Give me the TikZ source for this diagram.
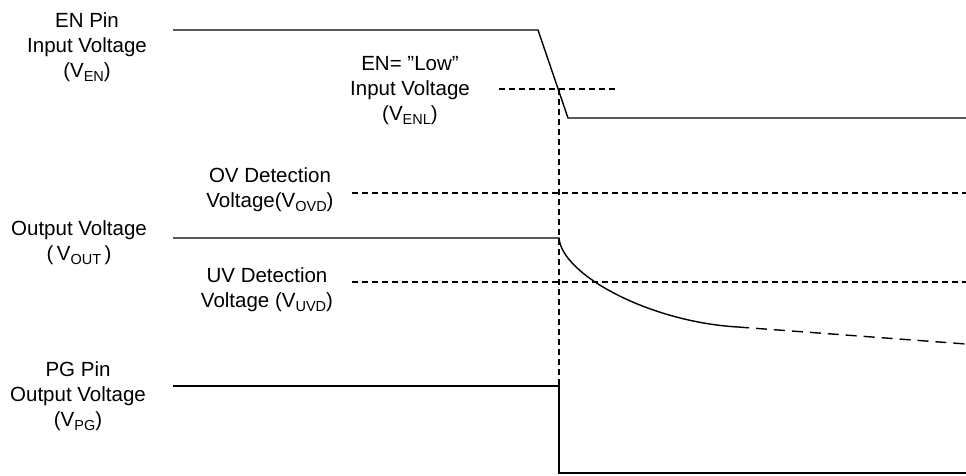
\documentclass[tikz,border=0pt]{standalone}
\usepackage{fontspec}
\setmainfont{Liberation Sans}
\newcommand\sbs[1]{\raisebox{-0.35ex}{\fontsize{14.5}{14.5}\selectfont #1}}
\begin{document}
\begin{tikzpicture}[x=1pt,y=-1pt,
  lbl/.style={align=center,inner sep=0pt,font=\fontsize{20.5}{25}\selectfont},
  sig/.style={line width=1.4pt,line join=miter},
  lvl/.style={line width=1.1pt,dash pattern=on 6pt off 4pt},
  tail/.style={line width=1.4pt,dash pattern=on 11pt off 7pt}]
\useasboundingbox (0,0) rectangle (966,475);
% labels
\node[lbl] (len) at (87,47) {EN Pin\\Input Voltage\\(V\sbs{EN})};
\node[lbl] (lenl) at (410,91) {EN= ”Low”\\Input Voltage\\(V\sbs{ENL})};
\node[lbl] (lov) at (270,190) {OV Detection\\Voltage(V\sbs{OVD})};
\node[lbl] (lout) at (79,243) {Output Voltage\\(\,V\sbs{OUT}\,)};
\node[lbl] (luv) at (267,290) {UV Detection\\Voltage (V\sbs{UVD})};
\node[lbl] (lpg) at (78,396) {PG Pin\\Output Voltage\\(V\sbs{PG})};
% key points
\coordinate (en0) at (173,30);
\coordinate (en1) at (538,30);
\coordinate (en2) at (568,118);
\coordinate (en3) at (966,118);
\coordinate (th0) at (499,89);
\coordinate (th1) at (618,89);
\coordinate (cross) at (559,89);
\coordinate (ov0) at (352,193);
\coordinate (ov1) at (966,193);
\coordinate (uv0) at (352,282);
\coordinate (uv1) at (966,282);
\coordinate (vo0) at (173,238);
\coordinate (vo1) at (559,238);
\coordinate (vo2) at (738,327);
\coordinate (vo3) at (966,344);
\coordinate (pg0) at (173,386);
\coordinate (pg1) at (559,386);
\coordinate (pg2) at (559,473);
\coordinate (pg3) at (966,473);
% EN waveform
\draw[sig] (en0) -- (en1) -- (en2) -- (en3);
\draw[lvl] (th0) -- (th1);
\draw[lvl] (cross) -- (pg1);
% thresholds
\draw[lvl] (ov0) -- (ov1);
\draw[lvl] (uv0) -- (uv1);
% output voltage
\draw[sig] (vo0) -- (vo1) .. controls (562,275) and (650,322) .. (vo2);
\draw[tail] (vo2) -- (vo3);
% PG
\draw[sig] (pg0) -- (pg1) -- (pg2) -- (pg3);
\end{tikzpicture}
\end{document}
